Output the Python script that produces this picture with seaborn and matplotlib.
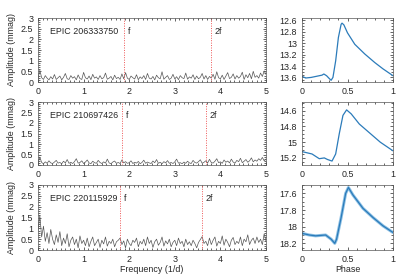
import numpy as np
import pandas as pd
import matplotlib
matplotlib.use("Agg")
import matplotlib.pyplot as plt
import seaborn as sns
from matplotlib.ticker import MultipleLocator

sns.set_style("ticks")
plt.rcParams["font.family"] = ["Liberation Sans", "DejaVu Sans"]

stars = ["EPIC 206333750", "EPIC 210697426", "EPIC 220115929"]
f_main = [1.895, 1.84, 1.80]

# amplitude spectra (mmag), sampled every 0.04 c/d from 0 to 5
amp1 = [0.15, 0.55, 0.20, 0.12, 0.30, 0.18, 0.10, 0.25, 0.14, 0.35, 0.12, 0.20, 0.28, 0.10, 0.22, 0.40, 0.15, 0.12, 0.30, 0.18,
        0.25, 0.10, 0.33, 0.16, 0.12, 0.45, 0.20, 0.14, 0.28, 0.11, 0.36, 0.18, 0.24, 0.12, 0.30, 0.15, 0.20, 0.42, 0.13, 0.18,
        0.26, 0.10, 0.32, 0.16, 0.22, 0.12, 0.38, 0.15, 0.44, 0.18, 0.12, 0.28, 0.20, 0.14, 0.34, 0.11, 0.24, 0.16, 0.30, 0.12,
        0.40, 0.18, 0.14, 0.26, 0.10, 0.32, 0.20, 0.15, 0.48, 0.13, 0.22, 0.30, 0.12, 0.18, 0.36, 0.14, 0.25, 0.11, 0.30, 0.20,
        0.16, 0.42, 0.13, 0.24, 0.18, 0.34, 0.12, 0.28, 0.15, 0.22, 0.40, 0.14, 0.30, 0.12, 0.26, 0.18, 0.36, 0.13, 0.48, 0.20,
        0.15, 0.32, 0.12, 0.28, 0.44, 0.16, 0.22, 0.38, 0.14, 0.30, 0.18, 0.26, 0.46, 0.12, 0.34, 0.20, 0.40, 0.15, 0.50, 0.22,
        0.30, 0.18, 0.42, 0.26, 0.52, 0.35]
amp2 = [0.10, 0.38, 0.12, 0.06, 0.15, 0.08, 0.20, 0.10, 0.07, 0.14, 0.22, 0.09, 0.12, 0.06, 0.18, 0.10, 0.26, 0.08, 0.13, 0.07,
        0.16, 0.30, 0.09, 0.12, 0.20, 0.07, 0.14, 0.24, 0.10, 0.06, 0.18, 0.11, 0.08, 0.22, 0.12, 0.07, 0.15, 0.09, 0.28, 0.10,
        0.06, 0.14, 0.19, 0.08, 0.12, 0.07, 0.24, 0.10, 0.16, 0.08, 0.11, 0.20, 0.07, 0.13, 0.09, 0.17, 0.06, 0.12, 0.23, 0.08,
        0.14, 0.10, 0.07, 0.19, 0.11, 0.26, 0.08, 0.13, 0.06, 0.16, 0.10, 0.21, 0.08, 0.12, 0.07, 0.15, 0.28, 0.09, 0.11, 0.06,
        0.14, 0.08, 0.18, 0.10, 0.07, 0.22, 0.12, 0.09, 0.16, 0.25, 0.08, 0.13, 0.20, 0.10, 0.27, 0.12, 0.09, 0.18, 0.30, 0.11,
        0.15, 0.08, 0.24, 0.13, 0.19, 0.10, 0.28, 0.14, 0.09, 0.22, 0.16, 0.32, 0.11, 0.18, 0.26, 0.13, 0.20, 0.34, 0.15, 0.24,
        0.18, 0.30, 0.22, 0.36, 0.20, 0.28]
amp3 = [0.90, 1.60, 0.60, 1.10, 0.40, 0.80, 0.30, 0.95, 0.50, 0.25, 0.70, 0.35, 0.85, 0.20, 0.55, 0.30, 0.75, 0.15, 0.45, 0.60,
        0.25, 0.50, 0.10, 0.65, 0.30, 0.45, 0.20, 0.55, 0.15, 0.40, 0.60, 0.20, 0.35, 0.50, 0.12, 0.45, 0.28, 0.60, 0.18, 0.40,
        0.30, 0.50, 0.15, 0.38, 0.45, 0.55, 0.25, 0.42, 0.10, 0.50, 0.30, 0.20, 0.45, 0.35, 0.55, 0.15, 0.40, 0.28, 0.50, 0.20,
        0.60, 0.30, 0.45, 0.12, 0.38, 0.50, 0.22, 0.35, 0.60, 0.18, 0.42, 0.28, 0.50, 0.15, 0.35, 0.45, 0.20, 0.55, 0.30, 0.40,
        0.15, 0.50, 0.25, 0.38, 0.20, 0.45, 0.30, 0.10, 0.35, 0.48, 0.62, 0.30, 0.40, 0.20, 0.55, 0.25, 0.45, 0.60, 0.18, 0.40,
        0.30, 0.65, 0.22, 0.50, 0.35, 0.15, 0.45, 0.58, 0.25, 0.40, 0.30, 0.60, 0.20, 0.50, 0.38, 0.70, 0.25, 0.45, 0.55, 0.30,
        0.60, 0.35, 0.50, 0.25, 0.75, 0.40]
freq = np.linspace(0, 5, len(amp1))

# phased light curves (mag)
ph1 = [0.0, 0.04, 0.1, 0.16, 0.22, 0.24, 0.27, 0.3, 0.32, 0.34, 0.37, 0.4, 0.43, 0.44, 0.46, 0.5, 0.58, 0.69, 0.8, 0.89, 1.0]
mag1 = [13.58, 13.61, 13.6, 13.58, 13.56, 13.54, 13.57, 13.62, 13.65, 13.6, 13.31, 12.9, 12.67, 12.65, 12.68, 12.82, 13.02, 13.19, 13.34, 13.45, 13.57]
ph2 = [0.0, 0.11, 0.19, 0.245, 0.28, 0.33, 0.37, 0.41, 0.45, 0.49, 0.54, 0.63, 0.75, 0.86, 1.0]
mag2 = [15.12, 15.15, 15.21, 15.2, 15.22, 15.24, 15.15, 14.89, 14.66, 14.59, 14.64, 14.77, 14.89, 15.0, 15.11]
ph3 = [0.0, 0.08, 0.15, 0.26, 0.32, 0.36, 0.38, 0.43, 0.48, 0.51, 0.56, 0.67, 0.78, 0.89, 1.0]
mag3 = [18.08, 18.1, 18.11, 18.1, 18.15, 18.2, 18.15, 17.89, 17.6, 17.53, 17.62, 17.78, 17.89, 17.99, 18.07]

amps = [amp1, amp2, amp3]
curves = [(ph1, mag1), (ph2, mag2), (ph3, mag3)]
mag_lims = [(13.68, 12.56), (15.29, 14.49), (18.28, 17.5)]
mag_ticks = [[12.6, 12.8, 13, 13.2, 13.4, 13.6], [14.6, 14.8, 15, 15.2], [17.6, 17.8, 18, 18.2]]

W, H = 399, 279
rows = [(18, 82), (102, 165), (185, 250)]
fig = plt.figure(figsize=(W / 100, H / 100), dpi=100)
fs = 6.4
blue = "#2b7bba"


def style(ax):
    ax.tick_params(which="both", direction="in", top=True, right=True, labelsize=fs, width=0.5, pad=3.5)
    ax.tick_params(which="major", length=2.5)
    ax.tick_params(which="minor", length=1.2)
    for s in ax.spines.values():
        s.set_linewidth(0.5)
        s.set_color("#555555")


for i, (t, b) in enumerate(rows):
    ax = fig.add_axes([38 / W, 1 - b / H, 228 / W, (b - t) / H])
    df = pd.DataFrame({"freq": freq, "amp": amps[i]})
    sns.lineplot(data=df, x="freq", y="amp", ax=ax, color="#555555", lw=0.5)
    ax.axvline(f_main[i], color="#ee5555", ls=(0, (1, 1.5)), lw=0.7)
    ax.axvline(2 * f_main[i], color="#ee5555", ls=(0, (1, 1.5)), lw=0.7)
    ax.text(0.26, 2.25, stars[i], fontsize=fs)
    ax.text(f_main[i] + 0.08, 2.25, "f", fontsize=fs)
    ax.text(2 * f_main[i] + 0.08, 2.25, "2f", fontsize=fs)
    ax.set_xlim(0, 5)
    ax.set_ylim(0, 3)
    ax.xaxis.set_major_locator(MultipleLocator(1))
    ax.xaxis.set_minor_locator(MultipleLocator(0.1))
    ax.yaxis.set_major_locator(MultipleLocator(0.5))
    ax.yaxis.set_minor_locator(MultipleLocator(0.1))
    ax.set_yticklabels([f"{v:g}" for v in ax.get_yticks()])
    ax.set_ylabel("Amplitude (mmag)", fontsize=fs, labelpad=3)
    ax.set_xlabel("Frequency (1/d)" if i == 2 else "", fontsize=fs, labelpad=1)
    style(ax)

    ax2 = fig.add_axes([302 / W, 1 - b / H, 91 / W, (b - t) / H])
    ph, mg = curves[i]
    dfl = pd.DataFrame({"phase": ph, "mag": mg})
    if i == 2:
        sns.lineplot(data=dfl, x="phase", y="mag", ax=ax2, color="#8cc0e4", lw=2.2)
    sns.lineplot(data=dfl, x="phase", y="mag", ax=ax2, color=blue, lw=0.9)
    ax2.set_xlim(0, 1)
    ax2.set_ylim(*mag_lims[i])
    ax2.set_yticks(mag_ticks[i])
    ax2.set_yticklabels([f"{v:g}" for v in mag_ticks[i]])
    ax2.xaxis.set_major_locator(MultipleLocator(0.5))
    ax2.xaxis.set_minor_locator(MultipleLocator(0.1))
    ax2.yaxis.set_minor_locator(MultipleLocator(0.05))
    ax2.set_xticks([0, 0.5, 1])
    ax2.set_xticklabels(["0", "0.5", "1"])
    ax2.set_ylabel("")
    ax2.set_xlabel("Phase" if i == 2 else "", fontsize=fs, labelpad=1)
    style(ax2)

fig.savefig("out.png", dpi=100)
